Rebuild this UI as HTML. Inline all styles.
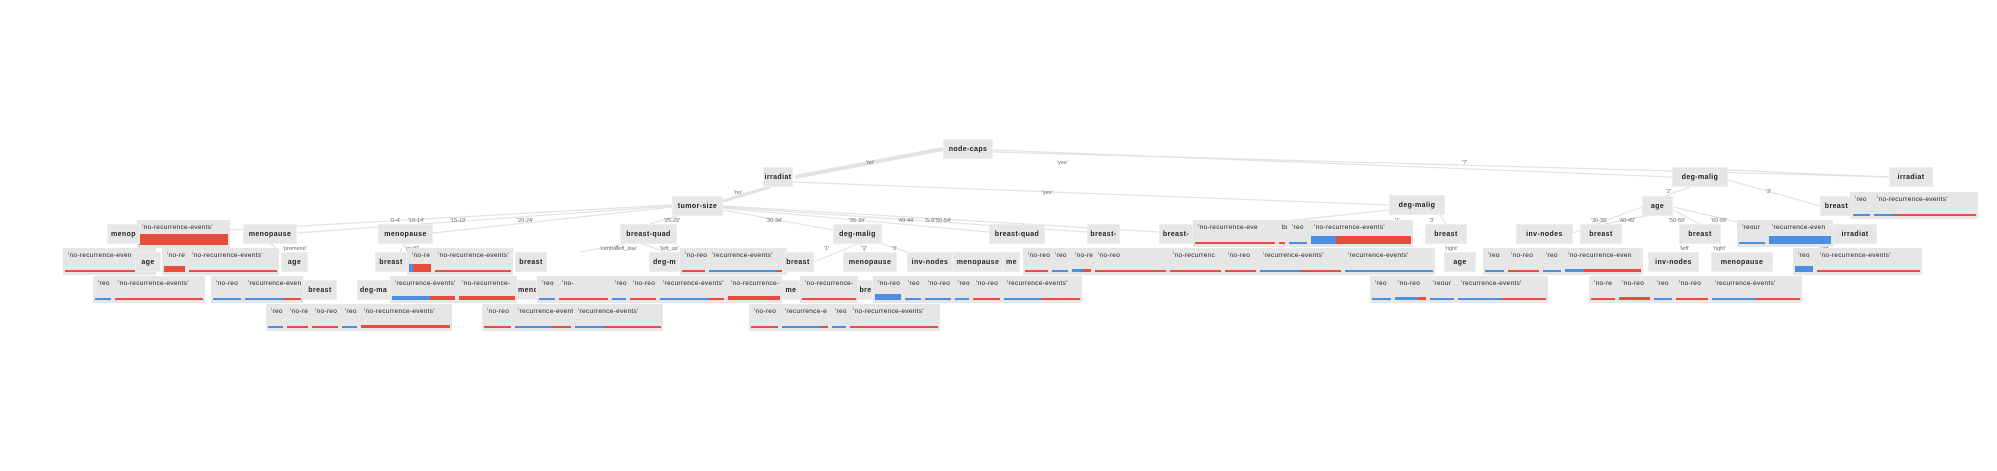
<!DOCTYPE html>
<html><head><meta charset="utf-8"><style>
html,body{margin:0;padding:0;background:#fff;width:1997px;height:471px;overflow:hidden;position:relative;font-family:"Liberation Sans",sans-serif}
.n{position:absolute;background:#e6e6e6;height:20px;line-height:20px;text-align:center;font-size:7px;font-weight:bold;color:#222;letter-spacing:.4px;overflow:hidden;white-space:nowrap;border:1px solid #eee;box-sizing:border-box}
.l{position:absolute;background:#e6e6e6;height:27px;font-size:6.5px;color:#222;letter-spacing:.3px;overflow:hidden;white-space:nowrap;box-sizing:border-box;padding:4px 0 0 5px}
.b{position:absolute;left:2px;right:2px;bottom:3px;display:flex}
.b i{display:block;height:100%}
.e{position:absolute;font-size:5.5px;color:#666;white-space:nowrap}
svg{position:absolute;left:0;top:0}
</style></head><body>
<svg width="1997" height="471">
<g stroke="#e2e2e2" fill="none" stroke-width="1.2">
<line x1="943" y1="149" x2="795" y2="177" stroke-width="4"/>
<line x1="993" y1="150" x2="1672" y2="177"/>
<line x1="993" y1="152" x2="1889" y2="177"/>
<line x1="770" y1="187" x2="723" y2="201" stroke-width="3"/>
<line x1="793" y1="182" x2="1389" y2="205"/>
<line x1="672" y1="205" x2="230" y2="230"/>
<line x1="672" y1="206" x2="297" y2="233"/>
<line x1="672" y1="207" x2="433" y2="233"/>
<line x1="680" y1="215" x2="650" y2="224"/>
<line x1="723" y1="210" x2="833" y2="230"/>
<line x1="723" y1="208" x2="989" y2="232"/>
<line x1="723" y1="207" x2="1087" y2="232"/>
<line x1="723" y1="206" x2="1159" y2="232"/>
<line x1="1389" y1="210" x2="1277" y2="222"/>
<line x1="1440" y1="215" x2="1446" y2="224"/>
<line x1="1690" y1="187" x2="1665" y2="196"/>
<line x1="1728" y1="180" x2="1820" y2="206"/>
<line x1="1728" y1="170" x2="1889" y2="177"/>
<line x1="1642" y1="207" x2="1573" y2="233"/>
<line x1="1650" y1="215" x2="1605" y2="224"/>
<line x1="1673" y1="210" x2="1700" y2="224"/>
<line x1="1673" y1="207" x2="1737" y2="222"/>
<line x1="860" y1="243" x2="814" y2="262"/>
<line x1="860" y1="243" x2="865" y2="252"/>
<line x1="880" y1="243" x2="907" y2="252"/>
<line x1="150" y1="243" x2="150" y2="252"/>
<line x1="270" y1="243" x2="280" y2="252"/>
<line x1="405" y1="243" x2="400" y2="252"/>
<line x1="630" y1="243" x2="580" y2="252"/>
<line x1="640" y1="243" x2="665" y2="252"/>
</g></svg>
<div id="c"></div>
<script>
var B='#4a90e2',R='#e74c3c';
var N=[[943,993,139,'node-caps'],[763,793,167,'irradiat'],[672,723,196,'tumor-size'],[1672,1728,167,'deg-malig'],[1889,1933,167,'irradiat'],[1389,1445,195,'deg-malig'],[1642,1673,196,'age'],[1820,1853,196,'breast'],
[107,140,224,'menop'],[243,297,224,'menopause'],[378,433,224,'menopause'],[620,677,224,'breast-quad'],[833,882,224,'deg-malig'],[989,1045,224,'breast-quad'],[1087,1120,224,'breast-'],[1159,1193,224,'breast-'],[1425,1467,224,'breast'],[1516,1573,224,'inv-nodes'],[1580,1622,224,'breast'],[1679,1721,224,'breast'],[1833,1877,224,'irradiat'],
[135,161,252,'age'],[281,308,252,'age'],[375,407,252,'breast'],[515,547,252,'breast'],[649,680,252,'deg-m'],[782,814,252,'breast'],[843,897,252,'menopause'],[907,953,252,'inv-nodes'],[953,1003,252,'menopause'],[1003,1020,252,'me'],[1444,1476,252,'age'],[1648,1699,252,'inv-nodes'],[1711,1773,252,'menopause'],
[303,337,280,'breast'],[357,390,280,'deg-ma'],[517,537,280,'meno'],[782,800,280,'me'],[858,873,280,'bre']];
var L=[
[137,230,220,"'no-recurrence-events'",0,1,11],
[1193,1277,220,"'no-recurrence-eve",0,0],[1277,1287,220,"br",0,0],[1287,1309,220,"'reo",1,0],[1309,1413,220,"'no-recurrence-events'",.25,1,8],
[1737,1767,220,"'reour",1,0],[1767,1833,220,"'recurrence-even",1,1,8],
[1850,1872,192,"'reo",1,0],[1872,1978,192,"'no-recurrence-events'",.2,0,3],
[63,156,248,"'no-recurrence-even",0,0],[162,187,248,"'no-re",0,1,6],[187,279,248,"'no-recurrence-events'",0,0],
[407,433,248,"'no-re",.2,1,8],[433,513,248,"'no-recurrence-events'",0,0],
[680,707,248,"'no-reo",0,0],[707,787,248,"'recurrence-events'",.88,0],
[1023,1050,248,"'no-reo",0,0],[1050,1070,248,"'reo",1,0],[1070,1093,248,"'no-re",.6,1,3],[1093,1168,248,"'no-reo",0,0],
[1168,1223,248,"'no-recurrenc",0,0],[1223,1258,248,"'no-reo",0,0],[1258,1343,248,"'recurrence-events'",.5,0],[1343,1435,248,"'recurrence-events'",1,0],
[1483,1506,248,"'reo",1,0],[1506,1541,248,"'no-reo",0,0],[1541,1563,248,"'reo",1,0],[1563,1643,248,"'no-recurrence-even",.25,1,3],
[1793,1815,248,"'reo",1,1,6],[1815,1922,248,"'no-recurrence-events'",0,0],
[93,113,276,"'reo",1,0],[113,205,276,"'no-recurrence-events'",0,0],
[211,243,276,"'no-reo",1,0],[243,303,276,"'recurrence-even",.7,0],
[390,457,276,"'recurrence-events'",.6,1,4],[457,517,276,"'no-recurrence-",0,1,4],
[537,557,276,"'reo",1,0],[557,610,276,"'no-",0,0],[610,628,276,"'reo",1,0],[628,658,276,"'no-reo",0,0],[658,726,276,"'recurrence-events'",.75,0],[726,782,276,"'no-recurrence-",0,1,4],
[800,858,276,"'no-recurrence-",0,0],[873,903,276,"'no-reo",1,1,6],[903,923,276,"'reo",1,0],[923,953,276,"'no-reo",1,0],[953,971,276,"'reo",1,0],[971,1002,276,"'no-reo",0,0],[1002,1082,276,"'recurrence-events'",.5,0],
[1370,1393,276,"'reo",1,0],[1393,1428,276,"'no-reo",.75,1,3],[1428,1456,276,"'reour",1,0],[1456,1548,276,"'recurrence-events'",.5,0],
[1589,1617,276,"'no-re",0,0],[1617,1652,276,"'no-reo",0,1,3],[1652,1674,276,"'reo",1,0],[1674,1710,276,"'no-reo",0,0],[1710,1802,276,"'recurrence-events'",.5,0],
[266,285,304,"'reo",1,0],[285,310,304,"'no-re",0,0],[310,340,304,"'no-reo",0,0],[340,359,304,"'reo",1,0],[359,452,304,"'no-recurrence-events'",0,1,3],
[482,513,304,"'no-reo",0,0],[513,573,304,"'recurrence-events'",.65,0],[573,663,304,"'recurrence-events'",.35,0],
[749,780,304,"'no-reo",0,0],[780,830,304,"'recurrence-e",.85,0],[830,848,304,"'reo",1,0],[848,940,304,"'no-recurrence-events'",0,0]];
var E=[[866,160,"'no'"],[1057,160,"'yes'"],[1462,160,"'?'"],[734,190,"'no'"],[1042,190,"'yes'"],
[390,218,"'0-4'"],[408,218,"'10-14'"],[450,218,"'15-19'"],[517,218,"'20-24'"],[664,218,"'25-29'"],[766,218,"'30-34'"],[849,218,"'35-39'"],[898,218,"'40-44'"],[925,218,"'5-9'"],[935,218,"'50-54'"],
[1666,189,"'2'"],[1766,189,"'3'"],[1591,218,"'30-39'"],[1619,218,"'40-49'"],[1669,218,"'50-59'"],[1711,218,"'60-69'"],[1429,218,"'3'"],[1395,218,"'1'"],[1445,246,"'right'"],
[824,246,"'1'"],[862,246,"'2'"],[892,246,"'3'"],[405,246,"'ge40'"],[600,246,"'central'"],[616,246,"'left_low'"],[660,246,"'left_up'"],[283,246,"'premeno'"],[1680,246,"'left'"],[1713,246,"'right'"],[1820,246,"'left'"]];
var h='';
E.forEach(function(e){h+='<div class="e" style="left:'+e[0]+'px;top:'+e[1]+'px">'+e[2]+'</div>';});
L.forEach(function(a){var w=a[1]-a[0],bh=a[5]?(a[6]||5):2;h+='<div class="l" style="left:'+a[0]+'px;top:'+a[2]+'px;width:'+w+'px'+(a[6]==11?';height:28px':'')+'">'+a[3]+'<div class="b" style="height:'+bh+'px"><i style="width:'+(a[4]*100)+'%;background:'+B+'"></i><i style="flex:1;background:'+R+'"></i></div></div>';});
N.forEach(function(a){h+='<div class="n" style="left:'+a[0]+'px;top:'+a[2]+'px;width:'+(a[1]-a[0])+'px">'+a[3]+'</div>';});
document.getElementById('c').innerHTML=h;
</script>
</body></html>
